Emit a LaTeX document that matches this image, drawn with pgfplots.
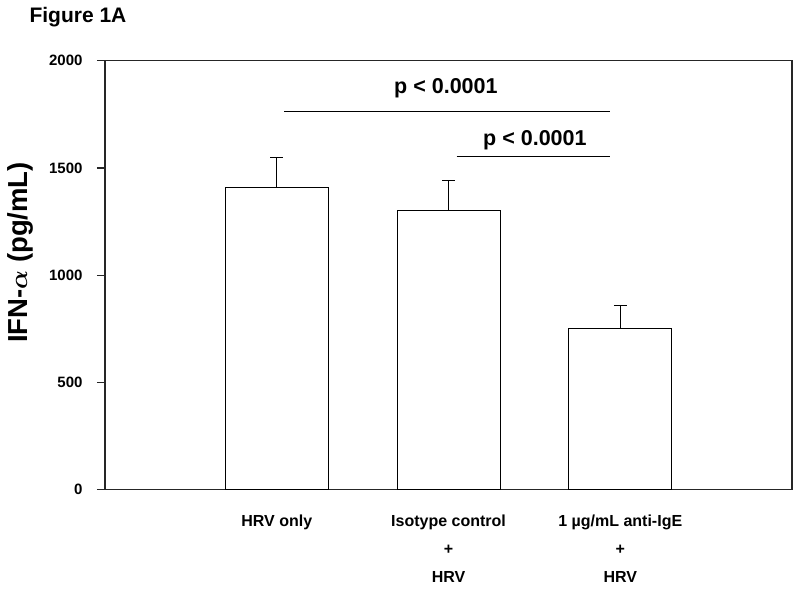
\documentclass[border=0pt]{standalone}
\usepackage{fontspec}
\setmainfont{Liberation Sans}
\usepackage{pgfplots}
\pgfplotsset{compat=1.18}

% IFN-alpha, mean and upper error
\pgfplotstableread{
x  y     err
1  1410  140
2  1300  140
3  750   107
}\ifndata

\begin{document}
\begin{tikzpicture}[x=1pt,y=1pt]
\path[use as bounding box] (0,0) rectangle (800,593);
\begin{axis}[
  at={(105pt,103.3pt)}, anchor=south west,
  scale only axis,
  width=687pt, height=429pt,
  xmin=0, xmax=4,
  ymin=0, ymax=2000,
  ytick={0,500,1000,1500,2000},
  ytick pos=left,
  xtick={1,2,3},
  xticklabels={HRV only,{Isotype control\\+\\HRV},{1 µg/mL anti-IgE\\+\\HRV}},
  axis line style={line width=1.3pt, black!85},
  tick align=outside,
  major tick length=8pt,
  ytick style={line width=1.2pt, black!85},
  xtick style={draw=none},
  tick label style={font=\fontsize{15}{17}\selectfont\bfseries},
  yticklabel style={xshift=-11pt},
  xticklabel style={font=\fontsize{16}{28}\selectfont\bfseries, align=center, yshift=-14pt},
  /pgf/number format/assume math mode=true,
  /pgf/number format/1000 sep={},
  clip=false,
]
\addplot[
  ybar, bar width=103pt, fill=white, draw=black, line width=1pt,
  error bars/.cd, y dir=plus, y explicit,
  error bar style={line width=1pt, black},
  error mark=|, error mark options={line width=1pt, mark size=6.5pt, black},
] table[x=x, y=y, y error=err] {\ifndata};

\draw[line width=1pt] (axis cs:1.044,1762) -- (axis cs:2.94,1762);
\draw[line width=1pt] (axis cs:2.048,1552) -- (axis cs:2.94,1552);
\node[font=\fontsize{21.5}{24}\selectfont\bfseries] at (axis cs:1.985,1873) {p < 0.0001};
\node[font=\fontsize{21.5}{24}\selectfont\bfseries] at (axis cs:2.503,1630) {p < 0.0001};
\end{axis}
\node[anchor=base west, font=\fontsize{21}{24}\selectfont\bfseries] at (26,570.3) {Figure 1A};
\node[anchor=base, rotate=90, font=\fontsize{27.5}{30}\selectfont\bfseries] at (27,340.5) {IFN-{\boldmath$\alpha$} (pg/mL)};
\end{tikzpicture}
\end{document}
